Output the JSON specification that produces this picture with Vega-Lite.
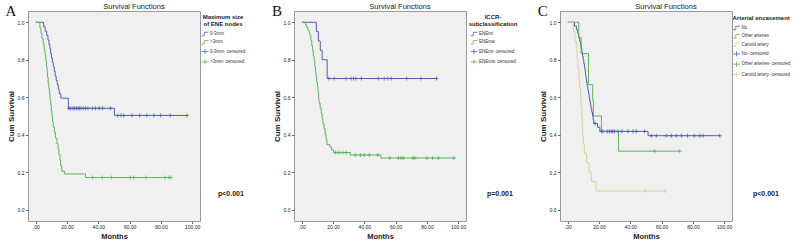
{
  "$schema": "https://vega.github.io/schema/vega-lite/v6.json",
  "background": "white",
  "padding": {"left": 4, "top": 2, "right": 2, "bottom": 0},
  "config": {
    "font": "Liberation Sans",
    "view": {"fill": "#f0f0f0", "stroke": "#9a9a9a", "strokeWidth": 1},
    "axis": {"domain": false, "grid": false, "labelFontSize": 5, "labelColor": "#222", "tickColor": "#444", "tickSize": 2.5, "tickWidth": 0.8, "titleFontSize": 8, "titleFontWeight": "bold", "titleColor": "#222", "labelOverlap": false, "labelFlush": false},
    "axisX": {"labelPadding": 1, "titlePadding": 3},
    "axisY": {"labelPadding": 1.5, "titlePadding": 2},
    "legend": {"labelFontSize": 4.5, "labelColor": "#333", "titleFontSize": 6, "titleFontWeight": "bold", "titleColor": "#222", "titleLineHeight": 7, "titlePadding": 3, "symbolSize": 49, "symbolStrokeWidth": 0.8, "labelOffset": 1, "rowPadding": 0.3, "padding": 0, "labelLimit": 200, "titleLimit": 200},
    "title": {"fontSize": 7.5, "fontWeight": "normal", "color": "#222", "offset": -6, "dx": 20}
  },
  "datasets": {
    "A_step": [
      {"g": "0-3mm", "t": 0, "s": 1}, {"g": "0-3mm", "t": 5, "s": 0.976}, {"g": "0-3mm", "t": 6, "s": 0.952}, {"g": "0-3mm", "t": 7, "s": 0.929}, {"g": "0-3mm", "t": 7.8, "s": 0.905}, {"g": "0-3mm", "t": 8.4, "s": 0.881}, {"g": "0-3mm", "t": 9, "s": 0.857}, {"g": "0-3mm", "t": 9.5, "s": 0.833}, {"g": "0-3mm", "t": 10, "s": 0.81}, {"g": "0-3mm", "t": 10.6, "s": 0.786}, {"g": "0-3mm", "t": 11.2, "s": 0.762}, {"g": "0-3mm", "t": 11.8, "s": 0.738}, {"g": "0-3mm", "t": 12.4, "s": 0.714}, {"g": "0-3mm", "t": 13, "s": 0.69}, {"g": "0-3mm", "t": 13.7, "s": 0.667}, {"g": "0-3mm", "t": 14.4, "s": 0.643}, {"g": "0-3mm", "t": 15, "s": 0.619}, {"g": "0-3mm", "t": 16, "s": 0.595}, {"g": "0-3mm", "t": 20.8, "s": 0.541}, {"g": "0-3mm", "t": 50.3, "s": 0.503}, {"g": "0-3mm", "t": 96.6, "s": 0.503},
      {"g": ">3mm", "t": 0, "s": 1}, {"g": ">3mm", "t": 2.6, "s": 0.971}, {"g": ">3mm", "t": 3.3, "s": 0.941}, {"g": ">3mm", "t": 4, "s": 0.912}, {"g": ">3mm", "t": 4.8, "s": 0.882}, {"g": ">3mm", "t": 5.4, "s": 0.853}, {"g": ">3mm", "t": 5.9, "s": 0.824}, {"g": ">3mm", "t": 6.4, "s": 0.794}, {"g": ">3mm", "t": 6.8, "s": 0.765}, {"g": ">3mm", "t": 7.2, "s": 0.735}, {"g": ">3mm", "t": 7.5, "s": 0.706}, {"g": ">3mm", "t": 7.9, "s": 0.676}, {"g": ">3mm", "t": 8.3, "s": 0.647}, {"g": ">3mm", "t": 8.7, "s": 0.618}, {"g": ">3mm", "t": 9.1, "s": 0.588}, {"g": ">3mm", "t": 9.5, "s": 0.559}, {"g": ">3mm", "t": 9.9, "s": 0.529}, {"g": ">3mm", "t": 10.3, "s": 0.5}, {"g": ">3mm", "t": 10.7, "s": 0.471}, {"g": ">3mm", "t": 11.1, "s": 0.441}, {"g": ">3mm", "t": 11.9, "s": 0.412}, {"g": ">3mm", "t": 12.6, "s": 0.382}, {"g": ">3mm", "t": 13.5, "s": 0.353}, {"g": ">3mm", "t": 14.2, "s": 0.324}, {"g": ">3mm", "t": 14.8, "s": 0.294}, {"g": ">3mm", "t": 15.4, "s": 0.265}, {"g": ">3mm", "t": 15.9, "s": 0.235}, {"g": ">3mm", "t": 16.6, "s": 0.206}, {"g": ">3mm", "t": 18.3, "s": 0.191}, {"g": ">3mm", "t": 31.8, "s": 0.172}, {"g": ">3mm", "t": 86.3, "s": 0.172}
    ],
    "A_cens": [
      {"g": "0-3mm- censored", "t": 21.2, "s": 0.541}, {"g": "0-3mm- censored", "t": 22.3, "s": 0.541}, {"g": "0-3mm- censored", "t": 23.8, "s": 0.541}, {"g": "0-3mm- censored", "t": 24.8, "s": 0.541}, {"g": "0-3mm- censored", "t": 26, "s": 0.541}, {"g": "0-3mm- censored", "t": 27, "s": 0.541}, {"g": "0-3mm- censored", "t": 27.9, "s": 0.541}, {"g": "0-3mm- censored", "t": 28.8, "s": 0.541}, {"g": "0-3mm- censored", "t": 30.3, "s": 0.541}, {"g": "0-3mm- censored", "t": 31.8, "s": 0.541}, {"g": "0-3mm- censored", "t": 33.3, "s": 0.541}, {"g": "0-3mm- censored", "t": 36.2, "s": 0.541}, {"g": "0-3mm- censored", "t": 38.2, "s": 0.541}, {"g": "0-3mm- censored", "t": 40.5, "s": 0.541}, {"g": "0-3mm- censored", "t": 42.7, "s": 0.541}, {"g": "0-3mm- censored", "t": 47.8, "s": 0.541},
      {"g": "0-3mm- censored", "t": 52.5, "s": 0.503}, {"g": "0-3mm- censored", "t": 54.5, "s": 0.503}, {"g": "0-3mm- censored", "t": 56.2, "s": 0.503}, {"g": "0-3mm- censored", "t": 61.5, "s": 0.503}, {"g": "0-3mm- censored", "t": 66.4, "s": 0.503}, {"g": "0-3mm- censored", "t": 71, "s": 0.503}, {"g": "0-3mm- censored", "t": 75.5, "s": 0.503}, {"g": "0-3mm- censored", "t": 79.8, "s": 0.503}, {"g": "0-3mm- censored", "t": 86, "s": 0.503}, {"g": "0-3mm- censored", "t": 96.6, "s": 0.503},
      {"g": ">3mm- censored", "t": 36.3, "s": 0.172}, {"g": ">3mm- censored", "t": 42.5, "s": 0.172}, {"g": ">3mm- censored", "t": 48.3, "s": 0.172}, {"g": ">3mm- censored", "t": 60.5, "s": 0.172}, {"g": ">3mm- censored", "t": 62.6, "s": 0.172}, {"g": ">3mm- censored", "t": 70.4, "s": 0.172}, {"g": ">3mm- censored", "t": 82.5, "s": 0.172}, {"g": ">3mm- censored", "t": 85, "s": 0.172}, {"g": ">3mm- censored", "t": 86.3, "s": 0.172}
    ],
    "B_step": [
      {"g": "ENEmi", "t": 0, "s": 1}, {"g": "ENEmi", "t": 9.3, "s": 0.95}, {"g": "ENEmi", "t": 10.6, "s": 0.9}, {"g": "ENEmi", "t": 11.8, "s": 0.85}, {"g": "ENEmi", "t": 13, "s": 0.8}, {"g": "ENEmi", "t": 16.2, "s": 0.7}, {"g": "ENEmi", "t": 86.1, "s": 0.7},
      {"g": "ENEma", "t": 0, "s": 1}, {"g": "ENEma", "t": 2.4, "s": 0.986}, {"g": "ENEma", "t": 3.2, "s": 0.972}, {"g": "ENEma", "t": 4, "s": 0.958}, {"g": "ENEma", "t": 4.7, "s": 0.944}, {"g": "ENEma", "t": 5.2, "s": 0.93}, {"g": "ENEma", "t": 5.8, "s": 0.903}, {"g": "ENEma", "t": 6.4, "s": 0.875}, {"g": "ENEma", "t": 6.9, "s": 0.847}, {"g": "ENEma", "t": 7.4, "s": 0.819}, {"g": "ENEma", "t": 7.9, "s": 0.792}, {"g": "ENEma", "t": 8.3, "s": 0.764}, {"g": "ENEma", "t": 8.7, "s": 0.736}, {"g": "ENEma", "t": 9.1, "s": 0.708}, {"g": "ENEma", "t": 9.5, "s": 0.681}, {"g": "ENEma", "t": 10, "s": 0.653}, {"g": "ENEma", "t": 10.4, "s": 0.625}, {"g": "ENEma", "t": 10.7, "s": 0.597}, {"g": "ENEma", "t": 11, "s": 0.569}, {"g": "ENEma", "t": 11.7, "s": 0.542}, {"g": "ENEma", "t": 12.4, "s": 0.514}, {"g": "ENEma", "t": 13, "s": 0.486}, {"g": "ENEma", "t": 13.5, "s": 0.458}, {"g": "ENEma", "t": 14.2, "s": 0.431}, {"g": "ENEma", "t": 14.9, "s": 0.403}, {"g": "ENEma", "t": 15.5, "s": 0.375}, {"g": "ENEma", "t": 16.1, "s": 0.347}, {"g": "ENEma", "t": 18, "s": 0.333}, {"g": "ENEma", "t": 19, "s": 0.319}, {"g": "ENEma", "t": 20.3, "s": 0.305}, {"g": "ENEma", "t": 31, "s": 0.292}, {"g": "ENEma", "t": 50.5, "s": 0.276}, {"g": "ENEma", "t": 97.4, "s": 0.276}
    ],
    "B_cens": [
      {"g": "ENEmi- censored", "t": 17.3, "s": 0.7}, {"g": "ENEmi- censored", "t": 20.7, "s": 0.7}, {"g": "ENEmi- censored", "t": 28.3, "s": 0.7}, {"g": "ENEmi- censored", "t": 31.5, "s": 0.7}, {"g": "ENEmi- censored", "t": 33.1, "s": 0.7}, {"g": "ENEmi- censored", "t": 34.6, "s": 0.7}, {"g": "ENEmi- censored", "t": 38.1, "s": 0.7}, {"g": "ENEmi- censored", "t": 48.9, "s": 0.7}, {"g": "ENEmi- censored", "t": 52.7, "s": 0.7}, {"g": "ENEmi- censored", "t": 55, "s": 0.7}, {"g": "ENEmi- censored", "t": 57.2, "s": 0.7}, {"g": "ENEmi- censored", "t": 67.1, "s": 0.7}, {"g": "ENEmi- censored", "t": 76.2, "s": 0.7}, {"g": "ENEmi- censored", "t": 86.1, "s": 0.7},
      {"g": "ENEma- censored", "t": 21.5, "s": 0.305}, {"g": "ENEma- censored", "t": 23, "s": 0.305}, {"g": "ENEma- censored", "t": 24.5, "s": 0.305}, {"g": "ENEma- censored", "t": 26.3, "s": 0.305}, {"g": "ENEma- censored", "t": 28.4, "s": 0.305},
      {"g": "ENEma- censored", "t": 34.2, "s": 0.292}, {"g": "ENEma- censored", "t": 37.5, "s": 0.292}, {"g": "ENEma- censored", "t": 40, "s": 0.292}, {"g": "ENEma- censored", "t": 43.2, "s": 0.292}, {"g": "ENEma- censored", "t": 48.6, "s": 0.292},
      {"g": "ENEma- censored", "t": 56.3, "s": 0.276}, {"g": "ENEma- censored", "t": 61.8, "s": 0.276}, {"g": "ENEma- censored", "t": 63.4, "s": 0.276}, {"g": "ENEma- censored", "t": 64.9, "s": 0.276}, {"g": "ENEma- censored", "t": 71.1, "s": 0.276}, {"g": "ENEma- censored", "t": 72.3, "s": 0.276}, {"g": "ENEma- censored", "t": 80, "s": 0.276}, {"g": "ENEma- censored", "t": 83.6, "s": 0.276}, {"g": "ENEma- censored", "t": 87.4, "s": 0.276}, {"g": "ENEma- censored", "t": 97.4, "s": 0.276}
    ],
    "C_step": [
      {"g": "No", "t": 0, "s": 1}, {"g": "No", "t": 4.3, "s": 0.98}, {"g": "No", "t": 5.5, "s": 0.96}, {"g": "No", "t": 6.4, "s": 0.94}, {"g": "No", "t": 7, "s": 0.92}, {"g": "No", "t": 7.5, "s": 0.9}, {"g": "No", "t": 8, "s": 0.88}, {"g": "No", "t": 8.5, "s": 0.86}, {"g": "No", "t": 9, "s": 0.84}, {"g": "No", "t": 9.4, "s": 0.82}, {"g": "No", "t": 9.8, "s": 0.8}, {"g": "No", "t": 10.2, "s": 0.78}, {"g": "No", "t": 10.6, "s": 0.76}, {"g": "No", "t": 11, "s": 0.74}, {"g": "No", "t": 11.3, "s": 0.72}, {"g": "No", "t": 11.6, "s": 0.7}, {"g": "No", "t": 12, "s": 0.68}, {"g": "No", "t": 12.4, "s": 0.66}, {"g": "No", "t": 12.8, "s": 0.64}, {"g": "No", "t": 13.2, "s": 0.62}, {"g": "No", "t": 13.6, "s": 0.6}, {"g": "No", "t": 14, "s": 0.58}, {"g": "No", "t": 14.4, "s": 0.56}, {"g": "No", "t": 14.8, "s": 0.54}, {"g": "No", "t": 15.3, "s": 0.52}, {"g": "No", "t": 15.8, "s": 0.5}, {"g": "No", "t": 16.2, "s": 0.48}, {"g": "No", "t": 16.6, "s": 0.46}, {"g": "No", "t": 19, "s": 0.44}, {"g": "No", "t": 20.5, "s": 0.418}, {"g": "No", "t": 51.3, "s": 0.395}, {"g": "No", "t": 97.2, "s": 0.395},
      {"g": "Other arteries", "t": 0, "s": 1}, {"g": "Other arteries", "t": 7, "s": 0.917}, {"g": "Other arteries", "t": 8.5, "s": 0.833}, {"g": "Other arteries", "t": 13.2, "s": 0.667}, {"g": "Other arteries", "t": 15.9, "s": 0.583}, {"g": "Other arteries", "t": 16.4, "s": 0.5}, {"g": "Other arteries", "t": 21.5, "s": 0.417}, {"g": "Other arteries", "t": 32.4, "s": 0.3125}, {"g": "Other arteries", "t": 71.6, "s": 0.3125},
      {"g": "Carotid artery", "t": 0, "s": 1}, {"g": "Carotid artery", "t": 3.5, "s": 0.95}, {"g": "Carotid artery", "t": 4.6, "s": 0.9}, {"g": "Carotid artery", "t": 5.4, "s": 0.85}, {"g": "Carotid artery", "t": 6, "s": 0.8}, {"g": "Carotid artery", "t": 6.6, "s": 0.75}, {"g": "Carotid artery", "t": 7.1, "s": 0.7}, {"g": "Carotid artery", "t": 7.6, "s": 0.65}, {"g": "Carotid artery", "t": 8.1, "s": 0.6}, {"g": "Carotid artery", "t": 8.5, "s": 0.55}, {"g": "Carotid artery", "t": 8.9, "s": 0.5}, {"g": "Carotid artery", "t": 9.2, "s": 0.45}, {"g": "Carotid artery", "t": 9.5, "s": 0.4}, {"g": "Carotid artery", "t": 9.9, "s": 0.35}, {"g": "Carotid artery", "t": 10.6, "s": 0.3}, {"g": "Carotid artery", "t": 12, "s": 0.25}, {"g": "Carotid artery", "t": 13.5, "s": 0.2}, {"g": "Carotid artery", "t": 15, "s": 0.15}, {"g": "Carotid artery", "t": 18, "s": 0.1}, {"g": "Carotid artery", "t": 62, "s": 0.1}
    ],
    "C_cens": [
      {"g": "No- censored", "t": 17.5, "s": 0.46},
      {"g": "No- censored", "t": 21.5, "s": 0.418}, {"g": "No- censored", "t": 22.4, "s": 0.418}, {"g": "No- censored", "t": 25.2, "s": 0.418}, {"g": "No- censored", "t": 26.5, "s": 0.418}, {"g": "No- censored", "t": 27.8, "s": 0.418}, {"g": "No- censored", "t": 28.8, "s": 0.418}, {"g": "No- censored", "t": 29.9, "s": 0.418}, {"g": "No- censored", "t": 32.1, "s": 0.418}, {"g": "No- censored", "t": 34.6, "s": 0.418}, {"g": "No- censored", "t": 38.5, "s": 0.418}, {"g": "No- censored", "t": 41.7, "s": 0.418}, {"g": "No- censored", "t": 43.8, "s": 0.418}, {"g": "No- censored", "t": 49.1, "s": 0.418},
      {"g": "No- censored", "t": 53.4, "s": 0.395}, {"g": "No- censored", "t": 56.6, "s": 0.395}, {"g": "No- censored", "t": 63, "s": 0.395}, {"g": "No- censored", "t": 66.2, "s": 0.395}, {"g": "No- censored", "t": 69.4, "s": 0.395}, {"g": "No- censored", "t": 72.6, "s": 0.395}, {"g": "No- censored", "t": 76.5, "s": 0.395}, {"g": "No- censored", "t": 80.8, "s": 0.395}, {"g": "No- censored", "t": 84.4, "s": 0.395}, {"g": "No- censored", "t": 86.5, "s": 0.395}, {"g": "No- censored", "t": 97.2, "s": 0.395},
      {"g": "Other arteries- censored", "t": 55.5, "s": 0.3125}, {"g": "Other arteries- censored", "t": 71.6, "s": 0.3125},
      {"g": "Carotid artery- censored", "t": 49.5, "s": 0.1}, {"g": "Carotid artery- censored", "t": 62, "s": 0.1}
    ]
  },
  "bounds": "flush",
  "spacing": 94,
  "resolve": {"scale": {"color": "independent", "x": "independent", "y": "independent"}, "legend": {"color": "independent"}},
  "hconcat": [
    {
      "width": 172, "height": 210,
      "title": {"text": "Survival Functions", "color": "#222"},
      "layer": [
        {"data": {"name": "A_step"}, "mark": {"type": "line", "interpolate": "step-after", "strokeWidth": 1},
          "encoding": {
            "x": {"field": "t", "type": "quantitative", "scale": {"domain": [-5, 105], "nice": false, "zero": false}, "axis": {"values": [0, 20, 40, 60, 80, 100], "tickCount": 12, "labelExpr": "datum.value == 0 ? '.00' : format(datum.value, '.2f')", "title": "Months", "titleFontSize": 7.5}},
            "y": {"field": "s", "type": "quantitative", "scale": {"domain": [-0.06, 1.06], "nice": false, "zero": false}, "axis": {"values": [0, 0.2, 0.4, 0.6, 0.8, 1], "tickCount": 12, "format": ".1f", "title": "Cum Survival"}},
            "color": {"field": "g", "type": "nominal", "scale": {"domain": ["0-3mm", ">3mm", "0-3mm- censored", ">3mm- censored"], "range": ["#4d5fae", "#5cb45c", "#4d5fae", "#5cb45c"]},
              "legend": {"title": ["Maximum size", "of ENE nodes"], "orient": "none", "legendX": 173, "legendY": 3, "titleAnchor": "middle", "titleAlign": "center",
                "encode": {"symbols": {"update": {"shape": {"signal": "indexof(datum.value, 'censored') >= 0 ? 'M-1,0L1,0M0,-0.7L0,0.7' : 'M-1,0.5L-0.2,0.5L-0.2,-0.5L1,-0.5'"}, "fill": {"value": "transparent"}, "strokeWidth": {"value": 0.8}}}}}}
          }},
        {"data": {"name": "A_cens"}, "mark": {"type": "point", "shape": "M0,-1L0,1M-1,0L1,0", "size": 16, "filled": false, "strokeWidth": 0.8, "opacity": 1},
          "encoding": {"x": {"field": "t", "type": "quantitative"}, "y": {"field": "s", "type": "quantitative"}, "color": {"field": "g", "type": "nominal"}}},
        {"data": {"values": [{}]}, "mark": {"type": "text", "text": "A", "font": "Liberation Serif", "fontSize": 15, "align": "left", "baseline": "alphabetic", "color": "#111"},
          "encoding": {"x": {"datum": -19.4, "type": "quantitative"}, "y": {"datum": 1.033, "type": "quantitative"}}},
        {"data": {"values": [{}]}, "mark": {"type": "text", "text": "p<0.001", "fontSize": 7, "fontWeight": "bold", "align": "left", "baseline": "middle", "color": "#222"},
          "encoding": {"x": {"datum": 116.5, "type": "quantitative"}, "y": {"datum": 0.084, "type": "quantitative"}}}
      ]
    },
    {
      "width": 172, "height": 210,
      "title": {"text": "Survival Functions", "color": "#222"},
      "layer": [
        {"data": {"name": "B_step"}, "mark": {"type": "line", "interpolate": "step-after", "strokeWidth": 1},
          "encoding": {
            "x": {"field": "t", "type": "quantitative", "scale": {"domain": [-5, 105], "nice": false, "zero": false}, "axis": {"values": [0, 20, 40, 60, 80, 100], "tickCount": 12, "labelExpr": "datum.value == 0 ? '.00' : format(datum.value, '.2f')", "title": "Months", "titleFontSize": 7.5}},
            "y": {"field": "s", "type": "quantitative", "scale": {"domain": [-0.06, 1.06], "nice": false, "zero": false}, "axis": {"values": [0, 0.2, 0.4, 0.6, 0.8, 1], "tickCount": 12, "format": ".1f", "title": "Cum Survival"}},
            "color": {"field": "g", "type": "nominal", "scale": {"domain": ["ENEmi", "ENEma", "ENEmi- censored", "ENEma- censored"], "range": ["#4d5fae", "#5cb45c", "#4d5fae", "#5cb45c"]},
              "legend": {"title": ["ICCR-", "subclassification"], "orient": "none", "legendX": 175, "legendY": 3, "titleAnchor": "middle", "titleAlign": "center",
                "encode": {"symbols": {"update": {"shape": {"signal": "indexof(datum.value, 'censored') >= 0 ? 'M-1,0L1,0M0,-0.7L0,0.7' : 'M-1,0.5L-0.2,0.5L-0.2,-0.5L1,-0.5'"}, "fill": {"value": "transparent"}, "strokeWidth": {"value": 0.8}}}}}}
          }},
        {"data": {"name": "B_cens"}, "mark": {"type": "point", "shape": "M0,-1L0,1M-1,0L1,0", "size": 16, "filled": false, "strokeWidth": 0.8, "opacity": 1},
          "encoding": {"x": {"field": "t", "type": "quantitative"}, "y": {"field": "s", "type": "quantitative"}, "color": {"field": "g", "type": "nominal"}}},
        {"data": {"values": [{}]}, "mark": {"type": "text", "text": "B", "font": "Liberation Serif", "fontSize": 15, "align": "left", "baseline": "alphabetic", "color": "#111"},
          "encoding": {"x": {"datum": -19.1, "type": "quantitative"}, "y": {"datum": 1.033, "type": "quantitative"}}},
        {"data": {"values": [{}]}, "mark": {"type": "text", "text": "p=0.001", "fontSize": 7, "fontWeight": "bold", "align": "left", "baseline": "middle", "color": "#222"},
          "encoding": {"x": {"datum": 118.4, "type": "quantitative"}, "y": {"datum": 0.084, "type": "quantitative"}}}
      ]
    },
    {
      "width": 172, "height": 210,
      "title": {"text": "Survival Functions", "color": "#222"},
      "layer": [
        {"data": {"name": "C_step"}, "mark": {"type": "line", "interpolate": "step-after", "strokeWidth": 1},
          "encoding": {
            "x": {"field": "t", "type": "quantitative", "scale": {"domain": [-5, 105], "nice": false, "zero": false}, "axis": {"values": [0, 20, 40, 60, 80, 100], "tickCount": 12, "labelExpr": "datum.value == 0 ? '.00' : format(datum.value, '.2f')", "title": "Months", "titleFontSize": 7.5}},
            "y": {"field": "s", "type": "quantitative", "scale": {"domain": [-0.06, 1.06], "nice": false, "zero": false}, "axis": {"values": [0, 0.2, 0.4, 0.6, 0.8, 1], "tickCount": 12, "format": ".1f", "title": "Cum Survival"}},
            "color": {"field": "g", "type": "nominal", "scale": {"domain": ["No", "Other arteries", "Carotid artery", "No- censored", "Other arteries- censored", "Carotid artery- censored"], "range": ["#4d5fae", "#5cb45c", "#d6d29c", "#4d5fae", "#5cb45c", "#d6d29c"]},
              "legend": {"title": "Arterial encasement", "orient": "none", "legendX": 172.5, "legendY": 4, "titleAnchor": "start",
                "encode": {"symbols": {"update": {"shape": {"signal": "indexof(datum.value, 'censored') >= 0 ? 'M-1,0L1,0M0,-0.7L0,0.7' : 'M-1,0.5L-0.2,0.5L-0.2,-0.5L1,-0.5'"}, "fill": {"value": "transparent"}, "strokeWidth": {"value": 0.8}}}}}}
          }},
        {"data": {"name": "C_cens"}, "mark": {"type": "point", "shape": "M0,-1L0,1M-1,0L1,0", "size": 16, "filled": false, "strokeWidth": 0.8, "opacity": 1},
          "encoding": {"x": {"field": "t", "type": "quantitative"}, "y": {"field": "s", "type": "quantitative"}, "color": {"field": "g", "type": "nominal"}}},
        {"data": {"values": [{}]}, "mark": {"type": "text", "text": "C", "font": "Liberation Serif", "fontSize": 15, "align": "left", "baseline": "alphabetic", "color": "#111"},
          "encoding": {"x": {"datum": -19.3, "type": "quantitative"}, "y": {"datum": 1.033, "type": "quantitative"}}},
        {"data": {"values": [{}]}, "mark": {"type": "text", "text": "p<0.001", "fontSize": 7, "fontWeight": "bold", "align": "left", "baseline": "middle", "color": "#222"},
          "encoding": {"x": {"datum": 118.4, "type": "quantitative"}, "y": {"datum": 0.084, "type": "quantitative"}}}
      ]
    }
  ]
}
